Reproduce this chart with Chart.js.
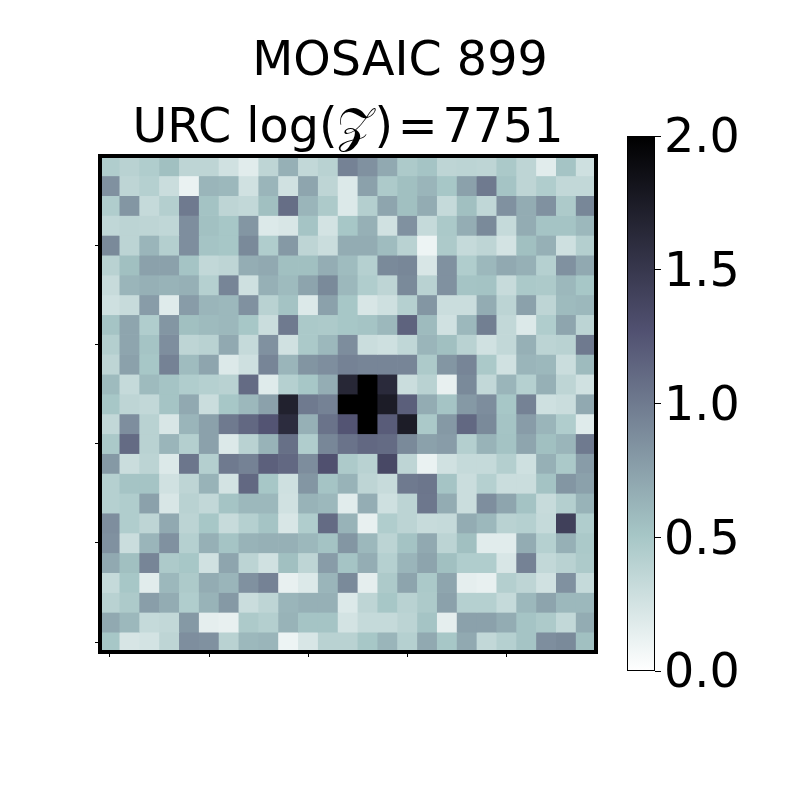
<!DOCTYPE html>
<html>
<head>
<meta charset="utf-8">
<title>MOSAIC 899</title>
<script src="https://cdn.jsdelivr.net/npm/chart.js@4"></script>
<style>
  body { margin: 0; background: #fff; }
  canvas { position: absolute; left: 0; top: 0; }
</style>
</head>
<body>
<canvas id="heatmap" width="800" height="800"></canvas>
<canvas id="colorbar" width="800" height="800"></canvas>
<script>
// Cell values, top row first
const row0 = [.45, .40, .45, .55, .37, .37, .27, .17, .37, .65, .35, .40, .95, .85, .70, .47, .52, .37, .38, .37, .48, .37, .17, .52, .28];
const row1 = [.85, .37, .42, .30, .12, .62, .60, .27, .62, .27, .72, .37, .20, .75, .47, .55, .62, .50, .75, 1.0, .52, .37, .45, .35, .35];
const row2 = [.45, .82, .33, .43, 1.0, .53, .37, .35, .55, 1.08, .62, .47, .20, .43, .72, .55, .68, .33, .55, .36, .85, .68, .85, .47, .92];
const row3 = [.36, .38, .37, .36, .87, .54, .50, .82, .20, .22, .52, .25, .50, .65, .27, .85, .33, .48, .67, .90, .33, .68, .52, .52, .60];
const row4 = [.90, .38, .62, .43, .87, .52, .50, .90, .45, .80, .37, .30, .68, .68, .57, .40, .10, .47, .33, .37, .25, .55, .65, .28, .43];
const row5 = [.40, .55, .75, .75, .52, .35, .37, .67, .70, .55, .55, .67, .57, .42, .90, .92, .22, .85, .45, .60, .70, .65, .42, .85, .70];
const row6 = [.32, .62, .65, .63, .65, .42, .93, .28, .65, .58, .73, .90, .60, .45, .37, .90, .40, .85, .52, .53, .32, .48, .47, .60, .50];
const row7 = [.28, .32, .78, .18, .78, .62, .60, .85, .40, .53, .20, .75, .50, .22, .28, .42, .82, .30, .30, .68, .38, .75, .37, .58, .60];
const row8 = [.52, .72, .45, .82, .55, .58, .60, .50, .30, 1.0, .48, .47, .50, .52, .60, 1.15, .58, .27, .60, .97, .35, .20, .45, .72, .38];
const row9 = [.43, .72, .52, .87, .37, .40, .70, .33, .85, .27, .48, .60, .88, .30, .28, .36, .62, .55, .40, .27, .35, .65, .38, .40, 1.0];
const row10 = [.37, .75, .50, .95, .57, .72, .20, .28, .93, .62, .83, .87, .95, .93, .93, .93, .47, .82, .93, .48, .27, .62, .60, .30, .58];
const row11 = [.58, .33, .58, .52, .45, .42, .40, 1.1, .18, .42, .50, .67, 1.65, 2.0, 1.62, .30, .40, .13, .90, .35, .62, .42, .65, .37, .27];
const row12 = [.50, .37, .35, .52, .70, .30, .50, .60, .75, 1.7, 1.0, .95, 2.0, 2.0, 1.75, 1.18, .68, .52, .80, .88, .50, .95, .28, .30, .70];
const row13 = [.35, .87, .40, .22, .62, .75, 1.0, 1.12, 1.25, 1.6, .65, 1.05, 1.25, 2.0, 1.2, 1.75, .48, .80, 1.12, .90, .52, .78, .62, .45, .18];
const row14 = [.48, 1.1, .40, .62, .43, .75, .20, .40, .63, 1.07, .45, .92, 1.05, 1.12, 1.1, .90, .75, .78, .43, .63, .53, .72, .55, .62, 1.0];
const row15 = [.80, .30, .38, .20, 1.03, .43, 1.0, .95, 1.17, 1.12, .88, 1.28, .47, .40, 1.35, .37, .12, .27, .33, .33, .43, .28, .65, .48, .78];
const row16 = [.42, .52, .52, .27, .37, .63, .25, 1.12, .50, .28, .82, .52, .63, .37, .32, 1.0, 1.03, .52, .30, .42, .30, .30, .53, .82, .75];
const row17 = [.42, .45, .75, .22, .40, .35, .52, .60, .60, .27, .63, .60, .17, .67, .28, .38, 1.02, .68, .30, .87, .72, .53, .32, .43, .63];
const row18 = [.87, .45, .37, .70, .38, .50, .32, .42, .52, .22, .45, 1.1, .63, .13, .45, .38, .32, .33, .68, .60, .40, .42, .33, 1.42, .45];
const row19 = [.85, .30, .62, .85, .42, .65, .52, .63, .65, .65, .60, .53, .82, .60, .38, .53, .70, .38, .55, .17, .17, .68, .42, .65, .48];
const row20 = [.70, .55, .93, .47, .50, .27, .72, .38, .27, .55, .37, .78, .52, .67, .42, .62, .73, .55, .45, .45, .22, .95, .35, .40, .47];
const row21 = [.33, .50, .17, .60, .47, .68, .62, .85, .95, .13, .20, .62, .90, .15, .47, .73, .48, .72, .15, .13, .43, .37, .27, .85, .33];
const row22 = [.40, .47, .77, .68, .45, .63, .80, .30, .37, .62, .65, .65, .20, .37, .50, .40, .47, .75, .42, .42, .33, .60, .73, .60, .60];
const row23 = [.70, .60, .33, .35, .80, .15, .13, .47, .43, .63, .52, .52, .25, .33, .33, .38, .52, .15, .75, .75, .68, .52, .47, .35, .68];
const row24 = [.50, .23, .25, .37, .87, .85, .40, .60, .62, .10, .22, .40, .40, .50, .62, .42, .70, .50, .70, .35, .42, .52, .87, .90, .55];
const rows = [row0, row1, row2, row3, row4, row5, row6, row7, row8, row9, row10, row11, row12,
  row13, row14, row15, row16, row17, row18, row19, row20, row21, row22, row23, row24];

const columns = row0.map((_, i) => i);
const cellHeight = columns.map(() => 1);
const xTickColumns = [0, 5, 10, 15, 20];
const yTickRows = [4.5, 9.5, 14.5, 19.5, 24.5];
const colorbarTicks = [0, 0.5, 1, 1.5, 2];
const mainTitle = "MOSAIC 899";
// hair spaces: the script Z comes out wider than the original one
const subTitle = "URC log(\u{1D4B5})\u200A=\u200A7751";

// bone_r colour ramp, light to dark over 0..2
const rampStops = [0, 0.254, 0.635, 1];
const rampColors = [[255, 255, 255], [166, 198, 198], [81, 81, 113], [0, 0, 0]];

function rampColor(v) {
  const t = Math.min(Math.max(v / 2, 0), 1);
  let i = 0;
  while (i < rampStops.length - 2 && t > rampStops[i + 1]) i++;
  const f = (t - rampStops[i]) / (rampStops[i + 1] - rampStops[i]);
  const c = rampColors[i].map((a, k) => Math.round(a + (rampColors[i + 1][k] - a) * f));
  return `rgb(${c[0]},${c[1]},${c[2]})`;
}

// Black box round the plot area
function frame(lineWidth) {
  const nudge = lineWidth % 2 ? 0.5 : 0;
  return {
    id: "frame",
    afterDatasetsDraw(chart) {
      const a = chart.chartArea;
      const c = chart.ctx;
      c.save();
      c.strokeStyle = "#000";
      c.lineWidth = lineWidth;
      c.strokeRect(a.left + nudge, a.top + nudge, a.right - a.left - nudge * 2, a.bottom - a.top - nudge * 2);
      c.restore();
    },
  };
}

const font = "'DejaVu Sans', sans-serif";
const fontSize = 47.6;

new Chart(document.getElementById("heatmap"), {
  type: "bar",
  data: {
    labels: columns,
    datasets: rows.map((row) => ({
      data: cellHeight,
      backgroundColor: row.map(rampColor),
      borderWidth: 0,
      barPercentage: 1,
      categoryPercentage: 1,
    })),
  },
  options: {
    responsive: false,
    animation: false,
    layout: { padding: 0 },
    plugins: {
      legend: { display: false },
      tooltip: { enabled: false },
      title: {
        display: true,
        text: mainTitle,
        color: "#000",
        font: { family: font, size: fontSize, weight: "normal", lineHeight: 1 },
        padding: { top: 39, bottom: 0 },
      },
      subtitle: {
        display: true,
        text: subTitle,
        color: "#000",
        fullSize: false,
        font: { family: font, size: fontSize, weight: "normal", lineHeight: 1 },
        padding: { top: 19, bottom: 2.8 },
      },
    },
    scales: {
      x: {
        stacked: true,
        afterBuildTicks: (axis) => { axis.ticks = axis.ticks.filter((t) => xTickColumns.includes(t.value)); },
        afterFit: (axis) => { axis.height = 148; },
        grid: { offset: false, drawOnChartArea: false, tickLength: 5, tickColor: "#000" },
        border: { display: false },
        ticks: { autoSkip: false, maxRotation: 0, callback: () => "" },
      },
      y: {
        stacked: true,
        reverse: true,
        min: 0,
        max: 25,
        afterBuildTicks: (axis) => { axis.ticks = yTickRows.map((value) => ({ value })); },
        afterFit: (axis) => { axis.width = 100; },
        grid: { drawOnChartArea: false, tickLength: 5, tickColor: "#000" },
        border: { display: false },
        ticks: { callback: () => "" },
      },
      // empty axis, keeps the room for the colour bar so the main title centres on the page
      side: {
        position: "right",
        afterFit: (axis) => { axis.width = 204; },
        grid: { display: false },
        border: { display: false },
        ticks: { display: false },
      },
    },
  },
  plugins: [frame(4)],
});

new Chart(document.getElementById("colorbar"), {
  type: "bar",
  data: {
    labels: ["z"],
    datasets: [{
      data: [[colorbarTicks[0], colorbarTicks[colorbarTicks.length - 1]]],
      barPercentage: 1,
      categoryPercentage: 1,
      borderWidth: 0,
      backgroundColor(context) {
        const a = context.chart.chartArea;
        if (!a) return "#888";
        const g = context.chart.ctx.createLinearGradient(0, a.bottom, 0, a.top);
        rampStops.forEach((s) => g.addColorStop(s, rampColor(s * 2)));
        return g;
      },
    }],
  },
  options: {
    responsive: false,
    animation: false,
    layout: { padding: { left: 627, right: 0, top: 136, bottom: 129 } },
    plugins: { legend: { display: false }, tooltip: { enabled: false }, title: { display: false } },
    scales: {
      x: { display: false },
      y: {
        position: "right",
        min: 0,
        max: 2,
        afterBuildTicks: (axis) => { axis.ticks = colorbarTicks.map((value) => ({ value })); },
        afterFit: (axis) => { axis.width = 145; },
        grid: { drawOnChartArea: false, tickLength: 6, tickColor: "#000" },
        border: { display: false },
        ticks: {
          color: "#000",
          padding: 3,
          // the empty first line and short line height push the text down to sit on its tick
          font: { family: font, size: fontSize, lineHeight: "8px" },
          callback: (v) => ["", v.toFixed(1)],
        },
      },
    },
  },
  plugins: [frame(1)],
});
</script>
</body>
</html>
